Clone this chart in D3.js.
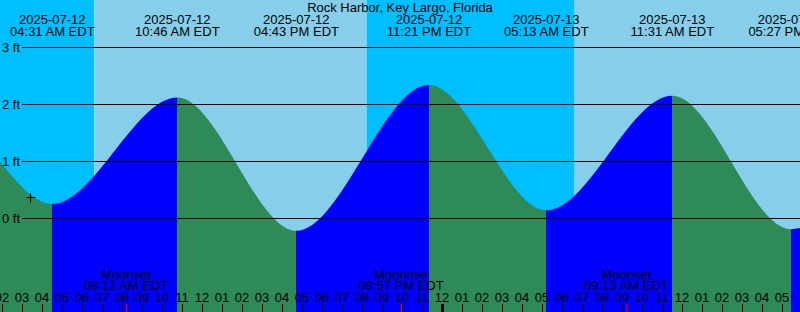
<!DOCTYPE html>
<html>
<head>
<meta charset="utf-8">
<script src="https://cdn.jsdelivr.net/npm/d3@7"></script>
<style>
  body { margin: 0; background: #fff; }
  svg { display: block; font-family: "Liberation Sans", Arial, sans-serif; font-size: 13px; }
</style>
</head>
<body>
<div id="app"></div>
<script>
// tide curve points (local EDT times), first/last are readings at the chart edges
const tideTimes   = ['2025-07-12 01:53', '2025-07-12 04:31', '2025-07-12 10:46', '2025-07-12 16:43',
                     '2025-07-12 23:21', '2025-07-13 05:13', '2025-07-13 11:31', '2025-07-13 17:27', '2025-07-13 17:54'];
const tideHeights = [1.0, 0.25, 2.12, -0.22, 2.34, 0.14, 2.15, -0.19, -0.17];
// which points are real high/low events (labelled at top)
const tideEvents  = [false, true, true, true, true, true, true, true, false];

const sunTimes  = ['2025-07-12 06:37', '2025-07-12 20:14', '2025-07-13 06:38'];
const sunKinds  = ['rise', 'set', 'rise'];

const moonTimes = ['2025-07-12 08:12', '2025-07-12 21:57', '2025-07-13 09:13'];
const moonKinds = ['Moonset', 'Moonrise', 'Moonset'];

const footTicks = [0, 1, 2, 3];
const markTime = '2025-07-12 03:25';
const markHeight = 0.37;

const title = 'Rock Harbor, Key Largo, Florida';

const width = 800, height = 312;
const parse = d3.utcParse('%Y-%m-%d %H:%M');

const x = d3.scaleUtc()
  .domain([parse('2025-07-12 01:54'), parse('2025-07-13 17:54')])
  .range([0, width]);
const y = d3.scaleLinear().domain([0, 3]).range([218.3, 47.3]);

const pts = tideTimes.map((t, i) => ({ t: parse(t), h: tideHeights[i], ev: tideEvents[i] }));

const svg = d3.select('#app').append('svg')
  .attr('width', width).attr('height', height);

// sky: night until sunrise, day until sunset ...
const bounds = [x.domain()[0], ...sunTimes.map(parse), x.domain()[1]];
const skyKinds = ['night', ...sunKinds.map(k => k === 'rise' ? 'day' : 'night')];
svg.selectAll('rect.sky')
  .data(d3.range(bounds.length - 1))
  .enter().append('rect')
  .attr('class', 'sky')
  .attr('x', i => x(bounds[i]))
  .attr('y', 0)
  .attr('width', i => x(bounds[i + 1]) - x(bounds[i]))
  .attr('height', height)
  .style('fill', i => skyKinds[i] === 'day' ? '#87ceeb' : '#00bfff');

// tide area
const area = d3.area()
  .x(d => x(d.t))
  .y0(height)
  .y1(d => y(d.h))
  .curve(d3.curveMonotoneX);

svg.append('clipPath').attr('id', 'tide')
  .append('path').datum(pts).attr('d', area);

svg.append('g').attr('clip-path', 'url(#tide)')
  .selectAll('rect')
  .data(d3.range(pts.length - 1))
  .enter().append('rect')
  .attr('x', i => x(pts[i].t))
  .attr('y', 0)
  .attr('width', i => x(pts[i + 1].t) - x(pts[i].t))
  .attr('height', height)
  .style('fill', i => pts[i + 1].h > pts[i].h ? '#0000ff' : '#2e8b57')
  .attr('shape-rendering', 'crispEdges');

// foot lines
svg.selectAll('line.grid')
  .data(footTicks)
  .enter().append('line')
  .attr('x1', 22).attr('x2', width)
  .attr('y1', d => Math.round(y(d)) + 0.5)
  .attr('y2', d => Math.round(y(d)) + 0.5)
  .style('stroke', '#000');

svg.selectAll('text.ft')
  .data(footTicks)
  .enter().append('text')
  .attr('x', 2)
  .attr('y', d => y(d) + 5)
  .text(d => d + ' ft');

// title
svg.append('text')
  .attr('x', width / 2).attr('y', 12)
  .attr('text-anchor', 'middle')
  .text(title);

// high / low labels
const fmtDate = d3.utcFormat('%Y-%m-%d');
const fmtTime = d3.utcFormat('%I:%M %p EDT');
const ev = svg.selectAll('g.ev')
  .data(pts.filter(d => d.ev))
  .enter().append('g')
  .attr('transform', d => `translate(${x(d.t)},0)`)
  .attr('text-anchor', 'middle');
ev.append('text').attr('y', 24).text(d => fmtDate(d.t));
ev.append('text').attr('y', 36).text(d => fmtTime(d.t));

// hour ticks
const hours = x.ticks(d3.utcHour.every(1));
const fmtHour = d3.utcFormat('%I');
svg.selectAll('line.hr')
  .data(hours)
  .enter().append('line')
  .attr('x1', d => Math.round(x(d)) + 0.5)
  .attr('x2', d => Math.round(x(d)) + 0.5)
  .attr('y1', 304).attr('y2', height)
  .style('stroke', '#000')
  .style('stroke-width', d => d.getUTCHours() === 0 ? 3 : 1);
svg.selectAll('text.hr')
  .data(hours)
  .enter().append('text')
  .attr('x', d => x(d))
  .attr('y', 302)
  .attr('text-anchor', 'middle')
  .text(d => fmtHour(d));

// moon events
const moon = svg.selectAll('g.moon')
  .data(moonTimes.map((t, i) => ({ t: parse(t), k: moonKinds[i] })))
  .enter().append('g')
  .attr('transform', d => `translate(${x(d.t)},0)`)
  .attr('text-anchor', 'middle');
moon.append('text').attr('y', 279).text(d => d.k);
moon.append('text').attr('y', 290).text(d => fmtTime(d.t));
moon.append('line')
  .attr('x1', 0.5).attr('x2', 0.5)
  .attr('y1', 304).attr('y2', height)
  .style('stroke', '#ff0000');

// current time mark
const mx = Math.round(x(parse(markTime))) + 0.5;
const my = Math.round(y(markHeight)) + 0.5;
svg.append('path')
  .attr('d', `M${mx - 4},${my}H${mx + 5}M${mx},${my - 4}V${my + 5}`)
  .style('stroke', '#000');
</script>
</body>
</html>
